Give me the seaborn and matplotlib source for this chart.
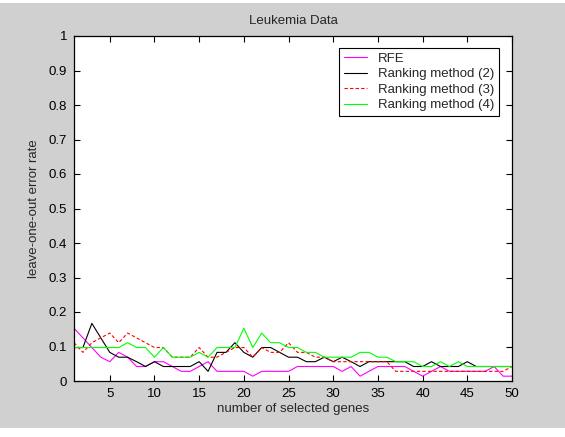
import numpy as np
import pandas as pd
import matplotlib
matplotlib.use("Agg")
import matplotlib.pyplot as plt
import seaborn as sns
from matplotlib.patches import Rectangle

# number of selected genes
genes = list(range(1, 51))

# leave-one-out error rates
rfe = [0.153, 0.125, 0.097, 0.069, 0.056, 0.083, 0.069, 0.042, 0.042, 0.056,
       0.056, 0.042, 0.028, 0.028, 0.042, 0.056, 0.028, 0.028, 0.028, 0.028,
       0.014, 0.028, 0.028, 0.028, 0.028, 0.042, 0.042, 0.042, 0.042, 0.042,
       0.028, 0.042, 0.014, 0.028, 0.042, 0.042, 0.042, 0.042, 0.028, 0.014,
       0.028, 0.042, 0.028, 0.028, 0.028, 0.028, 0.028, 0.042, 0.014, 0.014]
rank2 = [0.097, 0.097, 0.167, 0.125, 0.083, 0.069, 0.069, 0.056, 0.042, 0.056,
         0.042, 0.042, 0.042, 0.042, 0.056, 0.028, 0.083, 0.083, 0.111, 0.083,
         0.069, 0.097, 0.097, 0.083, 0.069, 0.069, 0.056, 0.056, 0.069, 0.056,
         0.069, 0.056, 0.042, 0.056, 0.056, 0.056, 0.056, 0.056, 0.042, 0.042,
         0.056, 0.042, 0.042, 0.042, 0.056, 0.042, 0.042, 0.042, 0.042, 0.042]
rank3 = [0.111, 0.083, 0.111, 0.125, 0.139, 0.111, 0.139, 0.125, 0.111, 0.097,
         0.097, 0.069, 0.069, 0.069, 0.097, 0.069, 0.069, 0.083, 0.097, 0.097,
         0.069, 0.097, 0.083, 0.083, 0.111, 0.083, 0.083, 0.069, 0.069, 0.056,
         0.056, 0.056, 0.056, 0.056, 0.056, 0.056, 0.028, 0.028, 0.028, 0.028,
         0.028, 0.028, 0.028, 0.028, 0.028, 0.028, 0.028, 0.028, 0.028, 0.042]
rank4 = [0.097, 0.097, 0.097, 0.097, 0.097, 0.097, 0.111, 0.097, 0.097, 0.069,
         0.097, 0.069, 0.069, 0.069, 0.083, 0.069, 0.097, 0.097, 0.097, 0.153,
         0.097, 0.139, 0.111, 0.111, 0.097, 0.097, 0.083, 0.083, 0.069, 0.069,
         0.069, 0.069, 0.083, 0.083, 0.069, 0.069, 0.056, 0.056, 0.056, 0.042,
         0.042, 0.056, 0.042, 0.056, 0.042, 0.042, 0.042, 0.042, 0.042, 0.042]

labels = ["RFE", "Ranking method (2)", "Ranking method (3)", "Ranking method (4)"]
colors = ["#ff00ff", "#000000", "#ff0000", "#00ff00"]
styles = ["-", "-", (0, (3, 2)), "-"]

sns.set_style("ticks")
plt.rcParams["font.family"] = ["Liberation Sans", "DejaVu Sans"]

fig = plt.figure(figsize=(5.65, 4.37), dpi=100, facecolor="white")
# matlab grey window, white strip at the bottom
fig.patches.append(Rectangle((0, 9 / 437), 1, 425 / 437, transform=fig.transFigure,
                             facecolor="#d0d0d0", edgecolor="none", zorder=-10))
ax = fig.add_axes([74 / 565, 1 - 381 / 437, 438 / 565, 345 / 437])
ax.set_facecolor("white")

for vals, lab, col, ls in zip([rfe, rank2, rank3, rank4], labels, colors, styles):
    d = pd.DataFrame({"genes": genes, "err": vals})
    sns.lineplot(data=d, x="genes", y="err", ax=ax, color=col, linestyle=ls,
                 linewidth=0.8, label=lab)

ax.set_xlim(1, 50)
ax.set_ylim(0, 1)
ax.set_xticks([5, 10, 15, 20, 25, 30, 35, 40, 45, 50])
yt = [0, 0.1, 0.2, 0.3, 0.4, 0.5, 0.6, 0.7, 0.8, 0.9, 1]
ax.set_yticks(yt)
ax.set_yticklabels(["0" if v == 0 else ("1" if v == 1 else f"{v:.1f}") for v in yt])
ax.tick_params(direction="in", length=4, width=0.8, top=True, right=True,
               labelsize=9.5, colors="black", pad=5)
for s in ax.spines.values():
    s.set_visible(True)
    s.set_color("black")
    s.set_linewidth(0.9)

ax.set_title("Leukemia Data", fontsize=9.5, pad=9)
ax.set_xlabel("number of selected genes", fontsize=9.5, labelpad=2)
ax.set_ylabel("leave-one-out error rate", fontsize=9.5, labelpad=6)

leg = ax.legend(loc="upper right", fontsize=9.5, frameon=True, fancybox=False,
                edgecolor="black", framealpha=1, handlelength=1.8,
                labelspacing=0.25, borderpad=0.35, handletextpad=0.8,
                bbox_to_anchor=(0.985, 0.985))
leg.get_frame().set_linewidth(0.8)

fig.savefig("out.png", dpi=100, facecolor=fig.get_facecolor())
